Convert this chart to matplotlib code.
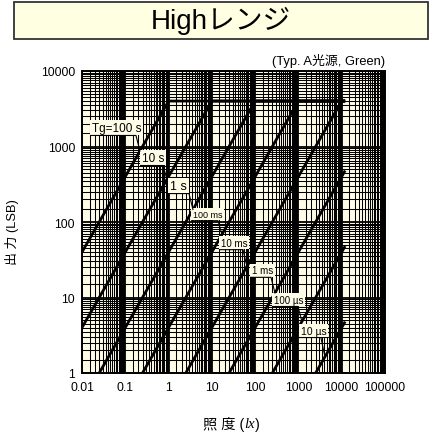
import numpy as np
import matplotlib
matplotlib.use('Agg')
from matplotlib import pyplot as plt
from matplotlib.patches import Rectangle
from matplotlib.ticker import FixedLocator, NullFormatter

plt.rcParams['font.family'] = ['Liberation Sans', 'Noto Sans CJK JP', 'DejaVu Sans']

# ------------------------------- data -------------------------------------
# output counts vs illuminance, one polyline per integration time (Tg)
lux_100s   = [0.01, 1, 12000];      out_100s   = [40, 4000, 4000]
lux_10s    = [0.01, 10, 12000];     out_10s    = [4, 4000, 4000]
lux_1s     = [0.025, 100, 12000];   out_1s     = [1, 4000, 4000]
lux_100ms  = [0.25, 1000, 12000];   out_100ms  = [1, 4000, 4000]
lux_10ms   = [2.5, 10000, 12000];   out_10ms   = [1, 4000, 4000]
lux_1ms    = [25, 12000];           out_1ms    = [1, 480]
lux_100us  = [250, 12000];          out_100us  = [1, 48]
lux_10us   = [2500, 12000];         out_10us   = [1, 4.8]

series = [(lux_100s, out_100s), (lux_10s, out_10s), (lux_1s, out_1s),
          (lux_100ms, out_100ms), (lux_10ms, out_10ms), (lux_1ms, out_1ms),
          (lux_100us, out_100us), (lux_10us, out_10us)]

# label text, left edge of text (lux), underline level, point on curve (lux)
label_text = ['Tg=100 s', '10 s', '1 s', '100 ms', '10 ms', '1 ms', '100 µs', '10 µs']
label_x    = [0.017, 0.243, 1.08, 3.66, 16.2, 84, 272, 1143]
label_y    = [1400, 560, 238, 104, 43, 18.5, 7.6, 2.95]
anchor_x   = [0.218, 0.918, 3.66, 17.1, 64.6, 287, 1204, 4090]
label_size = [8.5, 8.5, 9, 6.5, 7, 7, 7, 7.5]
narrow     = [False, False, False, True, True, True, True, True]

xticks = [0.01, 0.1, 1, 10, 100, 1000, 10000, 100000]
xlabels = ['0.01', '0.1', '1', '10', '100', '1000', '10000', '100000']
yticks = [1, 10, 100, 1000, 10000]
ylabels = ['1', '10', '100', '1000', '10000']

bg = '#FEFCE6'

# ------------------------------- figure -----------------------------------
fig = plt.figure(figsize=(4.37, 4.35), dpi=100)
ax = fig.add_axes([82/437, 1 - 374/435, 303/437, 302/435])
ax.set_facecolor(bg)
ax.set_xscale('log')
ax.set_yscale('log')
ax.set_xlim(0.01, 100000)
ax.set_ylim(1, 10000)

# dense log paper grid: half steps inside each decade
mult = np.arange(1.5, 10, 0.5)
ax.xaxis.set_minor_locator(FixedLocator([d * m for d in xticks[:-1] for m in mult]))
ax.yaxis.set_minor_locator(FixedLocator([d * m for d in yticks[:-1] for m in mult]))
ax.xaxis.set_minor_formatter(NullFormatter())
ax.yaxis.set_minor_formatter(NullFormatter())
ax.grid(which='major', color='black', lw=1.3)
ax.grid(which='minor', color='black', lw=0.75)
ax.set_axisbelow(True)

ax.set_xticks(xticks, xlabels)
ax.set_yticks(yticks, ylabels)
ax.tick_params(which='both', length=0, labelsize=8.7)
ax.tick_params(axis='x', pad=6)
ax.tick_params(axis='y', pad=5)
for s in ax.spines.values():
    s.set_linewidth(1.4)
    s.set_color('black')

for lx, out in series:
    ax.plot(lx, out, color='black', lw=2.0, solid_capstyle='butt', zorder=3)

# labels with underline + leader to the curve
for i, txt in enumerate(label_text):
    lx, out = series[i]
    ay = 10 ** np.interp(np.log10(anchor_x[i]), np.log10(lx), np.log10(out))
    knee = anchor_x[i] * 0.81
    fam = ['Liberation Sans Narrow', 'Liberation Sans'] if narrow[i] else ['Liberation Sans']
    ax.text(label_x[i], label_y[i] * 1.06, txt, fontsize=label_size[i],
            family=fam, ha='left', va='bottom', zorder=4,
            bbox=dict(fc=bg, ec='none', pad=1.2))
    ax.plot([label_x[i] * 0.93, knee, anchor_x[i]], [label_y[i], label_y[i], ay],
            color='black', lw=0.8, zorder=5)

ax.text(1.0, 1.012, '(Typ. A光源, Green)', transform=ax.transAxes,
        ha='right', va='bottom', fontsize=9.3)

# axis titles
fig.text(12/437, 1 - 232/435, '出 力 (LSB)', rotation=90, ha='center',
         va='center', fontsize=9.3)
t1 = fig.text(203/437, 1 - 425/435, '照 度 (', ha='left', va='center',
              fontsize=10.3)
t2 = ax.annotate('lx', xy=(1, 0.5), xycoords=t1, va='center', ha='left',
                 fontsize=10.5, family='Liberation Serif', style='italic',
                 annotation_clip=False)
ax.annotate(')', xy=(1, 0.5), xycoords=t2, va='center', ha='left',
            fontsize=10.3, annotation_clip=False)

# title box
fig.patches.append(Rectangle((14/437, 1 - 40/435), 414/437, 37/435,
                             transform=fig.transFigure, fc='#FFFFE1',
                             ec='#333333', lw=1.3))
fig.text(221/437, 1 - 21/435, 'Highレンジ', ha='center', va='center',
         fontsize=20)

fig.savefig('out.png', dpi=100)
